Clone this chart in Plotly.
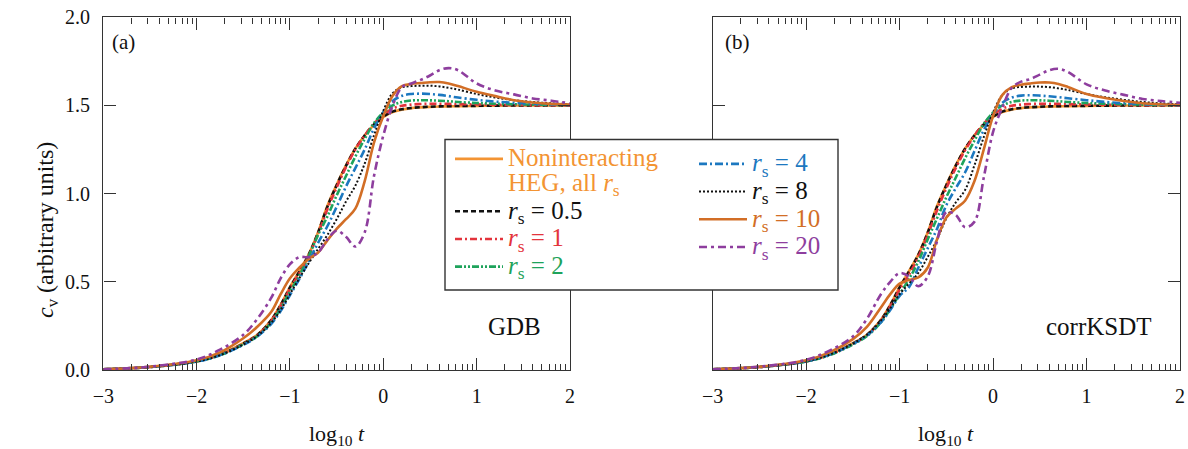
import math
import plotly.graph_objects as go

# ---------------- data ----------------
LOG_T = [-3, -2.5, -2, -1.75, -1.5, -1.35, -1.2, -1.1, -1.0, -0.9, -0.8, -0.7, -0.6, -0.5, -0.4,
         -0.3, -0.2, -0.1, 0.0, 0.1, 0.2, 0.3, 0.4, 0.5, 0.6, 0.7, 0.8, 1.0, 1.2, 1.4, 1.6, 1.8, 2.0]

NONINT = [0.004, 0.017, 0.05, 0.088, 0.152, 0.2, 0.285, 0.37, 0.47, 0.56, 0.655, 0.78, 0.93, 1.05, 1.16,
          1.255, 1.33, 1.39, 1.435, 1.463, 1.477, 1.485, 1.489, 1.492, 1.494, 1.495, 1.496, 1.498, 1.499, 1.5, 1.5, 1.5, 1.5]

# panel (a): GDB
GDB_RS05 = [0.004, 0.017, 0.05, 0.087, 0.15, 0.199, 0.283, 0.368, 0.468, 0.558, 0.653, 0.778, 0.925, 1.048, 1.158,
            1.255, 1.33, 1.392, 1.437, 1.465, 1.479, 1.486, 1.49, 1.493, 1.495, 1.496, 1.497, 1.498, 1.499, 1.5, 1.5, 1.5, 1.5]
GDB_RS1 = [0.004, 0.017, 0.049, 0.086, 0.148, 0.196, 0.278, 0.362, 0.46, 0.548, 0.645, 0.77, 0.91, 1.035, 1.15,
           1.25, 1.33, 1.397, 1.447, 1.482, 1.498, 1.505, 1.508, 1.51, 1.51, 1.509, 1.508, 1.506, 1.504, 1.503, 1.502, 1.501, 1.5]
GDB_RS2 = [0.004, 0.017, 0.048, 0.084, 0.145, 0.192, 0.27, 0.35, 0.445, 0.535, 0.645, 0.765, 0.87, 0.99, 1.1,
           1.21, 1.31, 1.40, 1.46, 1.5, 1.52, 1.528, 1.53, 1.529, 1.527, 1.524, 1.52, 1.514, 1.51, 1.507, 1.505, 1.503, 1.502]
GDB_RS4 = [0.004, 0.017, 0.048, 0.083, 0.143, 0.19, 0.262, 0.335, 0.425, 0.515, 0.615, 0.72, 0.815, 0.925, 1.04,
           1.145, 1.25, 1.37, 1.46, 1.525, 1.555, 1.565, 1.567, 1.565, 1.56, 1.553, 1.545, 1.532, 1.522, 1.515, 1.51, 1.506, 1.503]
GDB_RS8 = [0.004, 0.017, 0.048, 0.084, 0.145, 0.193, 0.268, 0.34, 0.43, 0.52, 0.605, 0.685, 0.765, 0.855, 0.955,
           1.045, 1.17, 1.33, 1.47, 1.57, 1.603, 1.61, 1.612, 1.612, 1.608, 1.6, 1.59, 1.565, 1.545, 1.53, 1.52, 1.512, 1.507]
GDB_RS10 = [0.004, 0.018, 0.055, 0.1, 0.18, 0.245, 0.33, 0.43, 0.52, 0.58, 0.63, 0.665, 0.735, 0.80, 0.855,
            0.915, 1.07, 1.29, 1.44, 1.555, 1.61, 1.622, 1.627, 1.632, 1.633, 1.625, 1.61, 1.578, 1.553, 1.53, 1.517, 1.509, 1.505]
GDB_RS20 = [0.004, 0.019, 0.06, 0.115, 0.2, 0.29, 0.41, 0.52, 0.6, 0.64, 0.64, 0.665, 0.74, 0.79, 0.755,
            0.70, 0.78, 1.1, 1.33, 1.5, 1.605, 1.625, 1.645, 1.67, 1.70, 1.712, 1.70, 1.625, 1.585, 1.563, 1.54, 1.527, 1.512]

# panel (b): corrKSDT
KSDT_RS05 = GDB_RS05
KSDT_RS1 = [0.004, 0.017, 0.049, 0.086, 0.148, 0.196, 0.278, 0.36, 0.455, 0.54, 0.64, 0.765, 0.905, 1.03, 1.145,
            1.245, 1.328, 1.397, 1.447, 1.482, 1.498, 1.505, 1.508, 1.51, 1.51, 1.509, 1.508, 1.506, 1.504, 1.503, 1.502, 1.501, 1.5]
KSDT_RS2 = [0.004, 0.017, 0.048, 0.084, 0.145, 0.192, 0.27, 0.345, 0.43, 0.515, 0.615, 0.74, 0.86, 0.98, 1.09,
            1.2, 1.3, 1.395, 1.46, 1.5, 1.52, 1.528, 1.53, 1.529, 1.527, 1.524, 1.52, 1.514, 1.51, 1.507, 1.505, 1.503, 1.502]
KSDT_RS4 = [0.004, 0.017, 0.049, 0.086, 0.148, 0.195, 0.27, 0.34, 0.42, 0.47, 0.58, 0.69, 0.80, 0.935, 1.03,
            1.12, 1.24, 1.36, 1.45, 1.515, 1.545, 1.556, 1.558, 1.556, 1.552, 1.547, 1.541, 1.53, 1.52, 1.513, 1.508, 1.505, 1.503]
KSDT_RS8 = [0.004, 0.017, 0.05, 0.087, 0.15, 0.2, 0.28, 0.35, 0.43, 0.49, 0.55, 0.64, 0.74, 0.86, 0.95,
            1.02, 1.16, 1.32, 1.46, 1.56, 1.597, 1.605, 1.607, 1.607, 1.604, 1.597, 1.588, 1.565, 1.546, 1.532, 1.52, 1.512, 1.507]
KSDT_RS10 = [0.004, 0.018, 0.055, 0.1, 0.175, 0.245, 0.355, 0.43, 0.49, 0.51, 0.525, 0.58, 0.74, 0.865, 0.915,
             0.96, 1.07, 1.25, 1.44, 1.56, 1.604, 1.618, 1.625, 1.63, 1.63, 1.622, 1.605, 1.565, 1.542, 1.525, 1.513, 1.507, 1.504]
KSDT_RS20 = [0.004, 0.019, 0.058, 0.11, 0.19, 0.29, 0.43, 0.5, 0.55, 0.53, 0.475, 0.53, 0.73, 0.895, 0.88,
             0.81, 0.84, 1.09, 1.35, 1.49, 1.6, 1.635, 1.65, 1.675, 1.70, 1.708, 1.69, 1.62, 1.585, 1.56, 1.537, 1.525, 1.515]

RS_LABELS = ["0.5", "1", "2", "4", "8", "10", "20"]
X_TICKS = [-3, -2, -1, 0, 1, 2]
Y_TICKS = [0.0, 0.5, 1.0, 1.5, 2.0]

# ---------------- styles ----------------
FONT = "Liberation Serif"
C_NI = "#F39433"
STYLES = {
    "0.5": dict(color="#111111", dash="5px,3px", width=2.6),
    "1": dict(color="#E3343C", dash="7px,3px,2px,3px", width=2.6),
    "2": dict(color="#1EA35B", dash="7px,2px,2px,2px,2px,2px", width=2.6),
    "4": dict(color="#1C78C0", dash="8px,3px,2px,3px", width=2.6),
    "8": dict(color="#111111", dash="2px,2px", width=2.0),
    "10": dict(color="#D26E26", dash="solid", width=2.6),
    "20": dict(color="#8E3E9E", dash="8px,4px,3px,4px", width=2.6),
}
LEG_COL1 = ["0.5", "1", "2"]

GDB = [GDB_RS05, GDB_RS1, GDB_RS2, GDB_RS4, GDB_RS8, GDB_RS10, GDB_RS20]
KSDT = [KSDT_RS05, KSDT_RS1, KSDT_RS2, KSDT_RS4, KSDT_RS8, KSDT_RS10, KSDT_RS20]

BIG = "font-family:Liberation Serif;font-size:25px"


def rs_name(lbl, color):
    return (f'<span style="color:{color};{BIG}"><i>r</i><sub>s</sub> = {lbl}</span>')


fig = go.Figure()

for panel, (xa, ya, series) in enumerate([("x", "y", GDB), ("x2", "y2", KSDT)]):
    first = panel == 0
    fig.add_trace(go.Scatter(
        x=LOG_T, y=NONINT, xaxis=xa, yaxis=ya, mode="lines", line_shape="spline",
        line=dict(color=C_NI, width=2.6),
        name=(f'<span style="color:{C_NI};{BIG}">Noninteracting</span><br>'
              f'<span style="color:{C_NI};{BIG}">HEG, all <i>r</i><sub>s</sub></span>'),
        showlegend=first, legend="legend", hoverinfo="skip"))
    for lbl, ys in zip(RS_LABELS, series):
        st = STYLES[lbl]
        fig.add_trace(go.Scatter(
            x=LOG_T, y=ys, xaxis=xa, yaxis=ya, mode="lines", line_shape="spline",
            line=dict(color=st["color"], width=st["width"], dash=st["dash"]),
            name=rs_name(lbl, st["color"]), showlegend=first,
            legend="legend" if lbl in LEG_COL1 else "legend2", hoverinfo="skip"))

# minor ticks: log-spaced inside each unit, as in the original
minor_vals = [k + math.log10(m) for k in range(-3, 2) for m in range(2, 10)]

AX = dict(showgrid=False, zeroline=False, showline=True, linecolor="#333333", linewidth=1.4,
          mirror="allticks", ticks="inside", tickcolor="#333333", tickwidth=1.3, ticklen=12,
          automargin=False,
          tickfont=dict(family=FONT, size=20, color="#111111"))
xcommon = dict(AX, range=[-3, 2], tickmode="array", tickvals=X_TICKS,
               minor=dict(tickmode="array", tickvals=minor_vals, ticks="inside", ticklen=6,
                          tickwidth=1.1, tickcolor="#333333", showgrid=False),
               ticklabelstandoff=8)
ycommon = dict(AX, range=[0, 2], tickmode="array", tickvals=Y_TICKS, tickformat=".1f",
               ticklabelstandoff=8)

W, H = 1188, 449
def px_x(p):
    return p / W
def px_y(p):
    return (H - p) / H

fig.update_layout(
    width=W, height=H, margin=dict(l=0, r=0, t=0, b=0, autoexpand=False),
    template="none",
    paper_bgcolor="white", plot_bgcolor="white",
    font=dict(family=FONT, size=20, color="#111111"),
    xaxis=dict(xcommon, domain=[px_x(103.3), px_x(570)], anchor="y"),
    yaxis=dict(ycommon, domain=[px_y(370), px_y(17.3)], anchor="x"),
    xaxis2=dict(xcommon, domain=[px_x(712.7), px_x(1180)], anchor="y2"),
    yaxis2=dict(ycommon, domain=[px_y(370), px_y(17.3)], anchor="x2", showticklabels=False),
    legend=dict(x=px_x(450), y=px_y(140), xanchor="left", yanchor="top", valign="top",
                bgcolor="rgba(0,0,0,0)", borderwidth=0, itemwidth=48,
                font=dict(family=FONT, size=19, color="#111111"), tracegroupgap=0),
    legend2=dict(x=px_x(694), y=px_y(145), xanchor="left", yanchor="top", valign="top",
                 bgcolor="rgba(0,0,0,0)", borderwidth=0, itemwidth=48,
                 font=dict(family=FONT, size=19, color="#111111"), tracegroupgap=0),
    shapes=[dict(type="rect", xref="paper", yref="paper", x0=px_x(445), x1=px_x(838),
                 y0=px_y(290), y1=px_y(139.5), line=dict(color="#333333", width=1.4),
                 fillcolor="white", layer="above")],
    annotations=[
        dict(text="(a)", xref="paper", yref="paper", x=px_x(110), y=px_y(42), xanchor="left",
             yanchor="middle", showarrow=False, font=dict(family=FONT, size=21)),
        dict(text="(b)", xref="paper", yref="paper", x=px_x(723), y=px_y(42), xanchor="left",
             yanchor="middle", showarrow=False, font=dict(family=FONT, size=21)),
        dict(text="GDB", xref="paper", yref="paper", x=px_x(543), y=px_y(326), xanchor="right",
             yanchor="middle", showarrow=False, font=dict(family=FONT, size=25)),
        dict(text="corrKSDT", xref="paper", yref="paper", x=px_x(1154), y=px_y(326), xanchor="right",
             yanchor="middle", showarrow=False, font=dict(family=FONT, size=25)),
        dict(text="log<sub>10</sub> <i>t</i>", xref="paper", yref="paper", x=px_x(336.5), y=px_y(435),
             xanchor="center", yanchor="middle", showarrow=False, font=dict(family=FONT, size=22)),
        dict(text="log<sub>10</sub> <i>t</i>", xref="paper", yref="paper", x=px_x(946), y=px_y(435),
             xanchor="center", yanchor="middle", showarrow=False, font=dict(family=FONT, size=22)),
        dict(text="<i>c</i><sub>v</sub> (arbitrary units)", xref="paper", yref="paper", x=px_x(47),
             y=px_y(230), xanchor="center", yanchor="middle", textangle=-90, showarrow=False,
             font=dict(family=FONT, size=24)),
    ],
)

fig.write_html("out.html", config={"displayModeBar": False},
               post_script="document.body.style.margin='0';document.body.style.overflow='hidden';")
